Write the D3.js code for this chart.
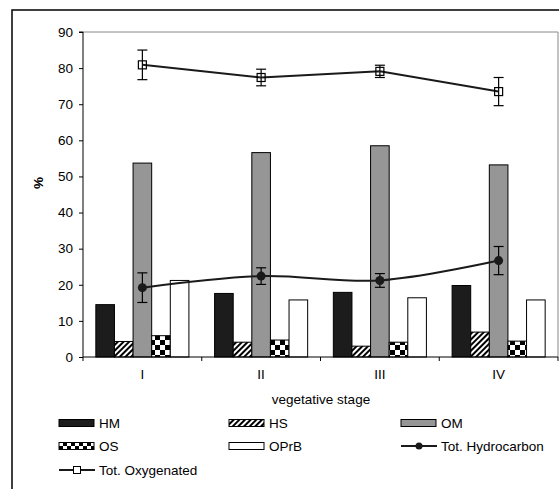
<!DOCTYPE html>
<html>
<head>
<meta charset="utf-8">
<script src="https://cdn.jsdelivr.net/npm/d3@7"></script>
<style>
  body { margin: 0; background: #fff; }
  text { font-family: "Liberation Sans", Arial, sans-serif; }
</style>
</head>
<body>
<div id="viz-container"></div>
<script>
const stages = ["I", "II", "III", "IV"];
const barSeries = ["HM", "HS", "OM", "OS", "OPrB"];
const hm   = [14.5, 17.6, 17.9, 19.8];
const hs   = [4.3, 4.1, 3.0, 6.9];
const om   = [53.7, 56.6, 58.5, 53.2];
const os   = [5.9, 4.7, 4.1, 4.4];
const oprb = [21.2, 15.8, 16.4, 15.8];
const hydro     = [19.2, 22.4, 21.2, 26.7];
const hydroErr  = [4.1, 2.3, 1.9, 3.9];
const oxy       = [80.9, 77.4, 79.1, 73.5];
const oxyErr    = [4.1, 2.3, 1.7, 3.9];
const yTicks = [0, 10, 20, 30, 40, 50, 60, 70, 80, 90];

const barValues = {HM: hm, HS: hs, OM: om, OS: os, OPrB: oprb};
const fills = {HM: "#1c1c1c", HS: "url(#hatch)", OM: "#969696", OS: "url(#checks)", OPrB: "#fff"};

const W = 559, H = 489;
const plot = {left: 83, right: 558, top: 32, bottom: 357};
const fs = 13.5;

const svg = d3.select("#viz-container").append("svg")
    .attr("width", W)
    .attr("height", H);

const defs = svg.append("defs");
const hatch = defs.append("pattern")
    .attr("id", "hatch")
    .attr("patternUnits", "userSpaceOnUse")
    .attr("width", 4).attr("height", 4)
    .attr("patternTransform", "rotate(45)");
hatch.append("rect").attr("width", 4).attr("height", 4).attr("fill", "#fff");
hatch.append("rect").attr("width", 2).attr("height", 4).attr("fill", "#000");

const checks = defs.append("pattern")
    .attr("id", "checks")
    .attr("patternUnits", "userSpaceOnUse")
    .attr("width", 10).attr("height", 10);
checks.append("rect").attr("width", 10).attr("height", 10).attr("fill", "#fff");
checks.append("rect").attr("width", 5).attr("height", 5).attr("fill", "#000");
checks.append("rect").attr("x", 5).attr("y", 5).attr("width", 5).attr("height", 5).attr("fill", "#000");

const checksSmall = defs.append("pattern")
    .attr("id", "checksSmall")
    .attr("patternUnits", "userSpaceOnUse")
    .attr("width", 8).attr("height", 7);
checksSmall.append("rect").attr("width", 8).attr("height", 7).attr("fill", "#fff");
checksSmall.append("rect").attr("width", 4).attr("height", 3.5).attr("fill", "#000");
checksSmall.append("rect").attr("x", 4).attr("y", 3.5).attr("width", 4).attr("height", 3.5).attr("fill", "#000");

// outer chart frame
svg.append("rect")
    .attr("x", 12).attr("y", 10)
    .attr("width", 600).attr("height", 600)
    .attr("fill", "none")
    .attr("stroke", "#000")
    .attr("stroke-width", 1.5);

const x = d3.scaleBand().domain(stages).range([plot.left, plot.right]);
const x1 = d3.scaleBand().domain(barSeries).range([0, x.bandwidth()]).paddingOuter(0.69);
const y = d3.scaleLinear().domain([0, 90]).range([plot.bottom, plot.top]);

// plot area border (grey top/right)
svg.append("path")
    .attr("d", `M${plot.left},${plot.top}H${plot.right}V${plot.bottom}`)
    .attr("fill", "none")
    .attr("stroke", "#888")
    .attr("stroke-width", 1);

// bars
barSeries.forEach(s => {
  svg.append("g")
    .selectAll("rect")
    .data(barValues[s])
    .join("rect")
      .attr("x", (d, i) => x(stages[i]) + x1(s))
      .attr("y", d => y(d))
      .attr("width", x1.bandwidth())
      .attr("height", d => y(0) - y(d))
      .attr("fill", fills[s])
      .attr("stroke", "#000")
      .attr("stroke-width", 1);
});

// axes
svg.append("g")
    .attr("transform", `translate(${plot.left},0)`)
    .call(d3.axisLeft(y).tickValues(yTicks).tickSize(4).tickPadding(6))
    .call(g => g.selectAll("text").attr("font-size", fs).attr("fill", "#000").attr("font-family", "Liberation Sans, Arial, sans-serif"))
    .call(g => g.select(".domain").attr("d", `M-4,${plot.top}H0V${plot.bottom}`));

const xAxis = svg.append("g")
    .attr("transform", `translate(0,${plot.bottom})`);
xAxis.append("line")
    .attr("x1", plot.left).attr("x2", plot.right)
    .attr("stroke", "#000");
xAxis.selectAll("line.tk")
    .data(d3.range(stages.length + 1))
    .join("line")
      .attr("class", "tk")
      .attr("x1", i => plot.left + i * x.step())
      .attr("x2", i => plot.left + i * x.step())
      .attr("y1", 0).attr("y2", 4)
      .attr("stroke", "#000");
xAxis.selectAll("text")
    .data(stages)
    .join("text")
      .attr("x", d => x(d) + x.bandwidth() / 2)
      .attr("y", 22)
      .attr("text-anchor", "middle")
      .attr("font-size", fs)
      .text(d => d);

svg.append("text")
    .attr("transform", "rotate(-90)")
    .attr("x", -183)
    .attr("y", 43)
    .attr("text-anchor", "middle")
    .attr("font-size", fs)
    .attr("font-weight", "bold")
    .text("%");

svg.append("text")
    .attr("x", 321)
    .attr("y", 404)
    .attr("text-anchor", "middle")
    .attr("font-size", fs)
    .text("vegetative stage");

// lines + error bars
const cx = (d, i) => x(stages[i]) + x.bandwidth() / 2;

function drawErr(vals, errs) {
  const g = svg.append("g").attr("stroke", "#000").attr("stroke-width", 1.2);
  vals.forEach((v, i) => {
    const px = cx(v, i);
    g.append("line").attr("x1", px).attr("x2", px).attr("y1", y(v + errs[i])).attr("y2", y(v - errs[i]));
    g.append("line").attr("x1", px - 5).attr("x2", px + 5).attr("y1", y(v + errs[i])).attr("y2", y(v + errs[i]));
    g.append("line").attr("x1", px - 5).attr("x2", px + 5).attr("y1", y(v - errs[i])).attr("y2", y(v - errs[i]));
  });
}

drawErr(oxy, oxyErr);
svg.append("path")
    .datum(oxy)
    .attr("fill", "none")
    .attr("stroke", "#1a1a1a")
    .attr("stroke-width", 2)
    .attr("d", d3.line().x(cx).y(d => y(d)));
svg.append("g")
  .selectAll("rect")
  .data(oxy)
  .join("rect")
    .attr("x", (d, i) => cx(d, i) - 4)
    .attr("y", d => y(d) - 4)
    .attr("width", 8).attr("height", 8)
    .attr("fill", "none")
    .attr("stroke", "#000")
    .attr("stroke-width", 1.2);

drawErr(hydro, hydroErr);
svg.append("path")
    .datum(hydro)
    .attr("fill", "none")
    .attr("stroke", "#1a1a1a")
    .attr("stroke-width", 2)
    .attr("d", d3.line().x(cx).y(d => y(d)).curve(d3.curveCatmullRom.alpha(0.5)));
svg.append("g")
  .selectAll("circle")
  .data(hydro)
  .join("circle")
    .attr("cx", cx)
    .attr("cy", d => y(d))
    .attr("r", 4.5)
    .attr("fill", "#1a1a1a");

// legend
const legendItems = [
  {name: "HM", type: "bar", fill: fills.HM},
  {name: "HS", type: "bar", fill: "url(#hatch)"},
  {name: "OM", type: "bar", fill: fills.OM},
  {name: "OS", type: "bar", fill: "url(#checksSmall)"},
  {name: "OPrB", type: "bar", fill: fills.OPrB},
  {name: "Tot. Hydrocarbon", type: "circle"},
  {name: "Tot. Oxygenated", type: "square"}
];
const colX = [59, 229, 401];
const rowY = [423, 446, 470];

const leg = svg.append("g")
  .selectAll("g")
  .data(legendItems)
  .join("g")
    .attr("transform", (d, i) => `translate(${colX[i % 3]},${rowY[Math.floor(i / 3)]})`);

leg.filter(d => d.type === "bar").append("rect")
    .attr("x", 0).attr("y", -3.5)
    .attr("width", 35).attr("height", 7)
    .attr("fill", d => d.fill)
    .attr("stroke", "#000");
leg.filter(d => d.type !== "bar").append("line")
    .attr("x1", 0).attr("x2", 36)
    .attr("stroke", "#1a1a1a").attr("stroke-width", 2);
leg.filter(d => d.type === "circle").append("circle")
    .attr("cx", 18).attr("r", 3.5).attr("fill", "#1a1a1a");
leg.filter(d => d.type === "square").append("rect")
    .attr("x", 14.5).attr("y", -3.5).attr("width", 7).attr("height", 7)
    .attr("fill", "#fff").attr("stroke", "#000");
leg.append("text")
    .attr("x", 40)
    .attr("y", 5)
    .attr("font-size", fs)
    .text(d => d.name);
</script>
</body>
</html>
